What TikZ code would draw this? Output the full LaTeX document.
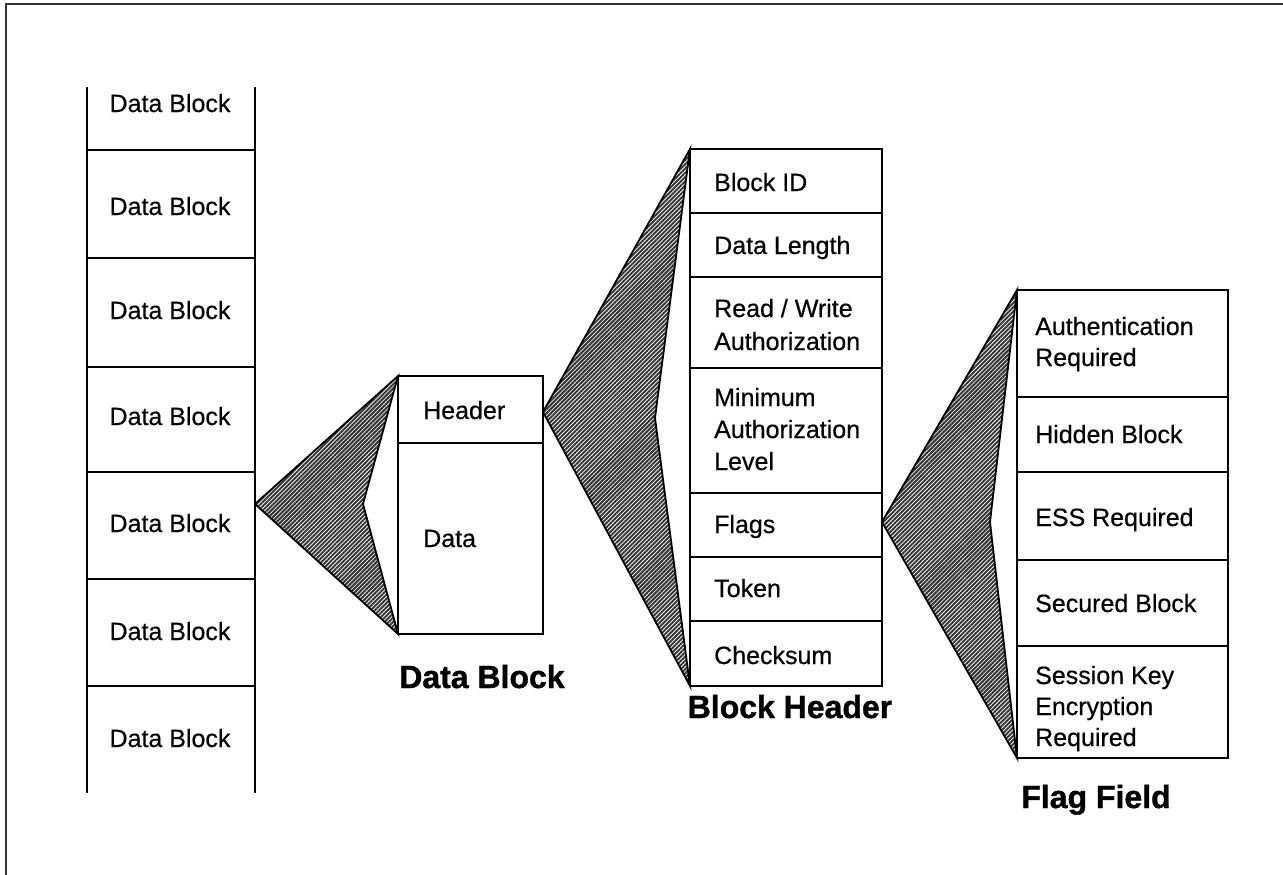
\documentclass[tikz,border=0pt]{standalone}
\usepackage{fontspec}
\setmainfont[FakeBold=0.5]{Liberation Sans}
\newfontfamily\titlefont[FakeBold=1.2]{Liberation Sans Bold}
\usetikzlibrary{patterns.meta}
\begin{document}
\begin{tikzpicture}[x=1pt,y=-1pt,
  rule/.style={line width=1.4pt, line cap=rect},
  lbl/.style={font=\fontsize{25}{30}\selectfont, inner sep=0pt, anchor=base},
  llbl/.style={lbl, anchor=base west},
  ttl/.style={font=\fontsize{32}{38}\selectfont\titlefont, inner sep=0pt, anchor=base},
  fan/.style={draw=black, line width=1.8pt, line join=miter,
    pattern={Lines[angle=45,distance=3pt,line width=2pt]}, pattern color=black!80}
]
\useasboundingbox (0,0) rectangle (1283,875);

% page frame (top and left edges)
\draw[line width=2.4pt, black!80] (1283,4) -- (6,4) -- (6,875);

% ---- stack of data blocks (open at both ends)
\coordinate (colTL) at (87,87);
\coordinate (colTR) at (255,87);
\coordinate (colBL) at (87,793);
\coordinate (colBR) at (255,793);
\draw[rule, line cap=butt] (colTL) -- (colBL) (colTR) -- (colBR);
\foreach \y in {150,258,367,472,579,686} \draw[rule] (87,\y) -- (255,\y);
\foreach \y [count=\i] in {112,215,319,425,532,640,747}
  \node[lbl] (db\i) at (170,\y) {Data Block};

% ---- one data block: header + data
\coordinate (dbTL) at (398,376);
\coordinate (dbBR) at (543,634);
\draw[rule] (dbTL) rectangle (dbBR);
\draw[rule] (398,443) -- (543,443);
\node[llbl] (hdr) at (423,419) {Header};
\node[llbl] (dat) at (423,547) {Data};
\node[ttl] (tDB) at (482,688) {Data Block};

% ---- block header fields
\coordinate (bhTL) at (690,149);
\coordinate (bhBR) at (882,686);
\draw[rule] (bhTL) rectangle (bhBR);
\foreach \y in {213,277,368,493,557,621} \draw[rule] (690,\y) -- (882,\y);
\foreach \n/\y/\t in {bh1/191/{Block ID}, bh2/254/{Data Length}, bh3/317/{Read / Write},
    bh4/350/{Authorization}, bh5/406/{Minimum}, bh6/438/{Authorization}, bh7/470/{Level},
    bh8/533/{Flags}, bh9/597/{Token}, bh10/664/{Checksum}}
  \node[llbl] (\n) at (714,\y) {\t};
\node[ttl] (tBH) at (790,718) {Block Header};

% ---- flag field bits
\coordinate (ffTL) at (1017,290);
\coordinate (ffBR) at (1228,758);
\draw[rule] (ffTL) rectangle (ffBR);
\foreach \y in {397,472,560,646} \draw[rule] (1017,\y) -- (1228,\y);
\foreach \n/\y/\t in {ff1/335/{Authentication}, ff2/366/{Required}, ff3/443/{Hidden Block},
    ff4/526/{ESS Required}, ff5/612/{Secured Block}, ff6/684/{Session Key},
    ff7/715/{Encryption}, ff8/746/{Required}}
  \node[llbl] (\n) at (1035,\y) {\t};
\node[ttl] (tFF) at (1096,808) {Flag Field};

% ---- expansion fans
\coordinate (f1apex) at (255,504);
\coordinate (f1in) at (363,504);
\coordinate (dbBL) at (398,634);
\draw[fan] (f1apex) -- (dbTL) -- (f1in) -- (dbBL) -- cycle;

\coordinate (f2apex) at (543,412);
\coordinate (f2in) at (655,418);
\coordinate (bhBL) at (690,686);
\draw[fan] (f2apex) -- (bhTL) -- (f2in) -- (bhBL) -- cycle;

\coordinate (f3apex) at (882,522);
\coordinate (f3in) at (990,522);
\coordinate (ffBL) at (1017,758);
\draw[fan] (f3apex) -- (ffTL) -- (f3in) -- (ffBL) -- cycle;
\end{tikzpicture}
\end{document}
